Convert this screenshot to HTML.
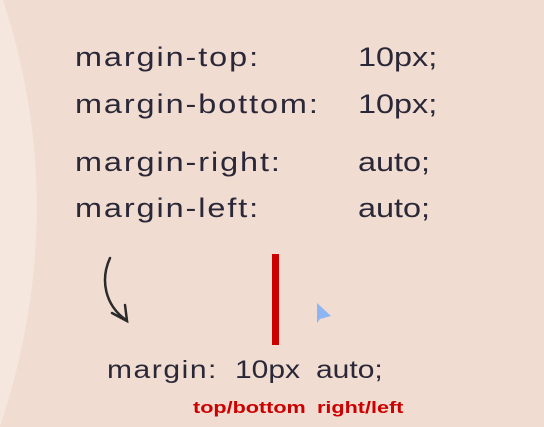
<!DOCTYPE html>
<html><head><meta charset="utf-8"><style>
body{margin:0;width:544px;height:427px;overflow:hidden;background:#f0dcd0;position:relative;font-family:"Liberation Sans",sans-serif}
.t{position:absolute;font-size:27px;color:#2a2838;white-space:pre;line-height:1;transform:scaleX(1.2);transform-origin:0 0}
.l{letter-spacing:1.6px}
.b{font-size:25px}
.r{position:absolute;font-size:17px;font-weight:bold;color:#cc0000;white-space:pre;line-height:1;transform:scaleX(1.27);transform-origin:0 0}
</style></head><body>
<svg width="544" height="427" style="position:absolute;left:0;top:0">
<path d="M0,0 L3,0 Q72,210 0,427 Z" fill="#f5e7de"/>
<path d="M110,258 C100,280 105,305 126,320 M112,313 L127,321 L125,305" fill="none" stroke="#2a2a2a" stroke-width="2.5" stroke-linecap="round"/>
<rect x="272" y="254" width="7" height="91" fill="#cc0000"/>
<path d="M317,303 L331,316 L320,319 L317,323 Z" fill="#8fb4f2"/>
</svg>
<div class="t l" style="left:75px;top:44px">margin-top:</div>
<div class="t" style="left:358px;top:44px">10px;</div>
<div class="t l" style="left:75px;top:91px">margin-bottom:</div>
<div class="t" style="left:358px;top:91px">10px;</div>
<div class="t l" style="left:75px;top:149px">margin-right:</div>
<div class="t" style="left:358px;top:149px">auto;</div>
<div class="t l" style="left:75px;top:195px">margin-left:</div>
<div class="t" style="left:358px;top:195px">auto;</div>
<div class="t b" style="left:107px;top:358px;letter-spacing:1.3px">margin:</div>
<div class="t b" style="left:235px;top:358px">10px</div>
<div class="t b" style="left:316px;top:358px">auto;</div>
<div class="r" style="left:193px;top:399px">top/bottom</div>
<div class="r" style="left:317px;top:399px">right/left</div>
</body></html>
